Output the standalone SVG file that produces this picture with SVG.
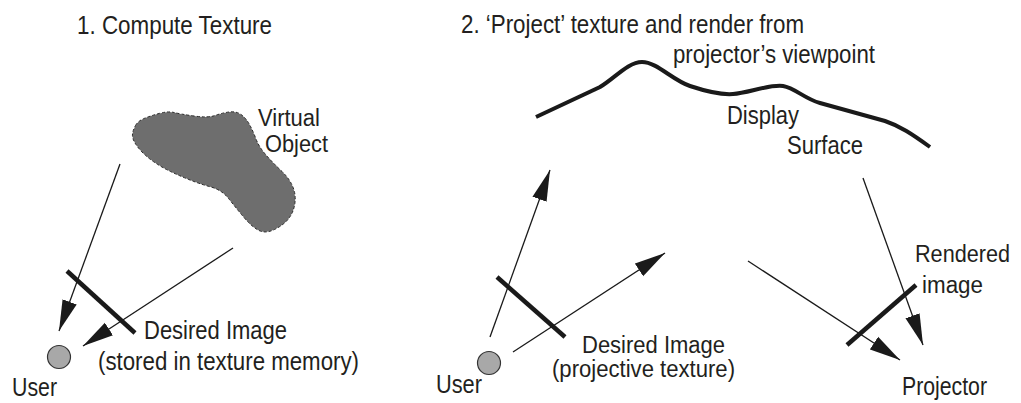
<svg xmlns="http://www.w3.org/2000/svg" width="1021" height="403" viewBox="0 0 1021 403">
<style>
.t{font-family:"Liberation Sans Narrow","Liberation Sans",Arial,sans-serif;font-size:26px;fill:#231f20}
.s{font-size:23px}
.ln{stroke:#1a1a1a;stroke-width:1.3;fill:none}
.bar{stroke:#1a1a1a;stroke-width:4.5;fill:none}
.usr{fill:#a8a8a8;stroke:#333;stroke-width:1.2}
</style>
<defs>
<marker id="ah" markerUnits="userSpaceOnUse" markerWidth="32" markerHeight="16" viewBox="0 0 32 16" refX="31" refY="8" orient="auto">
<path d="M0,0.5 L31,8 L0,15.5 z" fill="#1a1a1a"/>
</marker>
</defs>
<rect width="1021" height="403" fill="#fff"/>
<g id="title1"><text class="t" x="77" y="34" textLength="195" lengthAdjust="spacingAndGlyphs">1. Compute Texture</text></g>
<g id="title2">
<text class="t" x="461" y="33" textLength="343" lengthAdjust="spacingAndGlyphs">2. ‘Project’ texture and render from</text>
<text class="t" x="673" y="63" textLength="202" lengthAdjust="spacingAndGlyphs">projector’s viewpoint</text>
</g>
<g id="virtual-object">
<path d="M135.5,125.5 Q138,121 144,118.5 Q150,116 159,113.5 Q168,111 174,112.5 Q180,114 194,116 Q208,118 215,115.5 Q222,113 229,112 Q236,111 241,114.5 Q246,118 249.5,124.5 Q253,131 256,139 Q259,147 266,155 Q273,163 281,170.5 Q289,178 292.5,186 Q296,194 295,202.5 Q294,211 289.5,217.5 Q285,224 275.5,229 Q266,234 259,230.5 Q252,227 244,217.5 Q236,208 229,199 Q222,190 211,187 Q200,184 190,180 Q180,176 171.5,172 Q163,168 155.5,163 Q148,158 143,153 Q138,148 135,143 Q132,138 132.5,134 Q133,130 135.5,125.5 Z" fill="#6e6e6e" stroke="#2a2a2a" stroke-width="1" stroke-dasharray="3 2"/>
<text class="t s" x="258" y="126" textLength="62" lengthAdjust="spacingAndGlyphs">Virtual</text>
<text class="t s" x="265" y="152" textLength="63" lengthAdjust="spacingAndGlyphs">Object</text>
</g>
<g id="desired-image-left">
<line class="bar" x1="67" y1="271" x2="135" y2="333"/>
<text class="t" x="144" y="339" textLength="143" lengthAdjust="spacingAndGlyphs">Desired Image</text>
<text class="t" x="98" y="370" textLength="261" lengthAdjust="spacingAndGlyphs">(stored in texture memory)</text>
</g>
<g id="user-left">
<circle class="usr" cx="59" cy="357" r="11.5"/>
<text class="t" x="12" y="396" textLength="45" lengthAdjust="spacingAndGlyphs">User</text>
</g>
<g id="display-surface">
<path d="M536,117 L600,87 C615,78 628,62 642,62 C657,62 672,80 690,86 C705,91 720,95 733,94 C748,93 770,84 783,86 C795,88 805,99 820,103 L885,121 C900,126 912,134 930,147" fill="none" stroke="#1a1a1a" stroke-width="4"/>
<text class="t" x="727" y="124" textLength="72" lengthAdjust="spacingAndGlyphs">Display</text>
<text class="t" x="787" y="154" textLength="76" lengthAdjust="spacingAndGlyphs">Surface</text>
</g>
<g id="desired-image-right">
<line class="bar" x1="497" y1="277" x2="565" y2="337"/>
<text class="t s" x="582" y="353" textLength="143" lengthAdjust="spacingAndGlyphs">Desired Image</text>
<text class="t s" x="552" y="377" textLength="183" lengthAdjust="spacingAndGlyphs">(projective texture)</text>
</g>
<g id="user-right">
<circle class="usr" cx="489" cy="363" r="11.5"/>
<text class="t" x="436" y="393" textLength="46" lengthAdjust="spacingAndGlyphs">User</text>
</g>
<g id="rendered-image">
<line class="bar" x1="847" y1="345" x2="916" y2="285"/>
<text class="t s" x="915" y="262" textLength="95" lengthAdjust="spacingAndGlyphs">Rendered</text>
<text class="t s" x="922" y="293" textLength="61" lengthAdjust="spacingAndGlyphs">image</text>
</g>
<g id="projector">
<text class="t" x="902" y="395" textLength="85" lengthAdjust="spacingAndGlyphs">Projector</text>
</g>
<g id="connectors">
<line class="ln" x1="120" y1="164" x2="59" y2="331" marker-end="url(#ah)"/>
<line class="ln" x1="233" y1="248" x2="83" y2="346" marker-end="url(#ah)"/>
<line class="ln" x1="490" y1="337" x2="550" y2="170" marker-end="url(#ah)"/>
<line class="ln" x1="513" y1="352" x2="665" y2="253" marker-end="url(#ah)"/>
<line class="ln" x1="748" y1="261" x2="900" y2="360" marker-end="url(#ah)"/>
<line class="ln" x1="863" y1="178" x2="923" y2="345" marker-end="url(#ah)"/>
</g>
</svg>
